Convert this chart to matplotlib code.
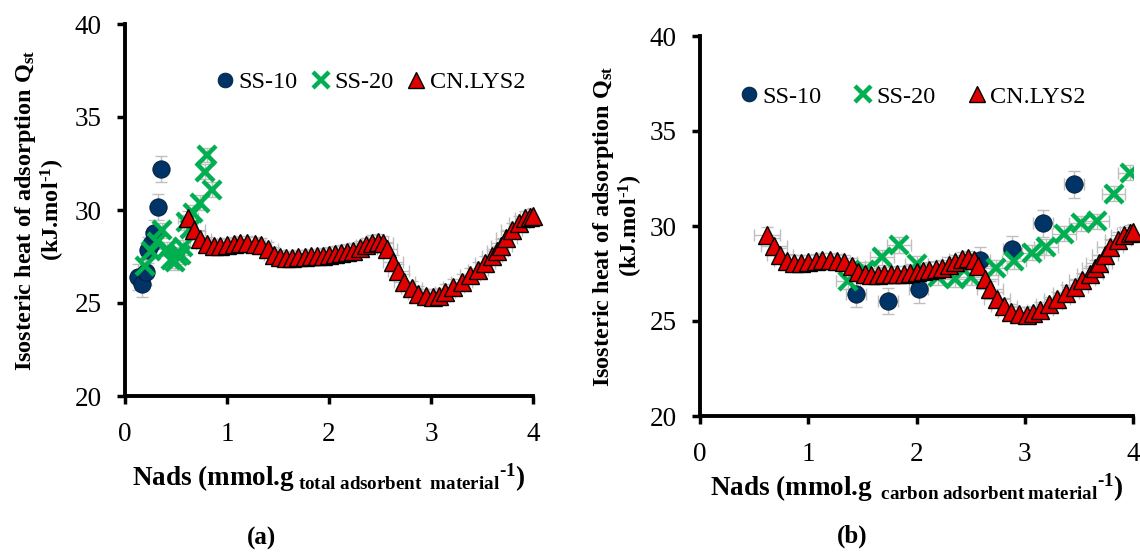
import matplotlib
matplotlib.use("Agg")
import matplotlib.pyplot as plt

plt.rcParams['font.family'] = ['Liberation Serif', 'DejaVu Serif']
plt.rcParams['mathtext.fontset'] = 'custom'
plt.rcParams['mathtext.rm'] = 'Liberation Serif'
plt.rcParams['mathtext.bf'] = 'Liberation Serif:bold'
plt.rcParams['mathtext.it'] = 'Liberation Serif:italic'

# ---------------- data ----------------
# CN.LYS2 (same in both panels)
cn_x = [0.62, 0.68, 0.74, 0.80, 0.87, 0.93, 1.00, 1.07, 1.13, 1.20, 1.27, 1.33,
        1.40, 1.46, 1.52, 1.58, 1.64, 1.70, 1.76, 1.82, 1.88, 1.94, 2.00, 2.06,
        2.12, 2.18, 2.24, 2.30, 2.36, 2.42, 2.48, 2.53, 2.57, 2.63, 2.68, 2.74,
        2.81, 2.87, 2.95, 3.02, 3.08, 3.14, 3.22, 3.30, 3.38, 3.46, 3.53, 3.60,
        3.65, 3.69, 3.74, 3.79, 3.86, 3.92, 3.97, 4.00]
cn_y = [29.55, 28.95, 28.45, 28.15, 28.05, 28.05, 28.10, 28.15, 28.20, 28.20, 28.15, 28.10,
        27.90, 27.60, 27.45, 27.40, 27.40, 27.45, 27.45, 27.50, 27.50, 27.55, 27.60, 27.65,
        27.70, 27.75, 27.80, 27.95, 28.10, 28.25, 28.30, 28.20, 27.90, 27.20, 26.70, 26.15,
        25.80, 25.50, 25.35, 25.34, 25.40, 25.60, 25.88, 26.15, 26.50, 26.80, 27.15, 27.50,
        27.80, 28.05, 28.48, 28.90, 29.28, 29.55, 29.65, 29.70]

# SS-10
ss10_xa = [0.13, 0.17, 0.21, 0.23, 0.25, 0.28, 0.32, 0.35]
ss10_ya = [26.41, 26.03, 26.68, 27.85, 28.15, 28.75, 30.14, 32.19]
ss10_xb = [1.44, 1.735, 2.02, 2.59, 2.886, 3.17, 3.457]
ss10_yb = [26.42, 26.05, 26.67, 28.20, 28.77, 30.14, 32.19]

# SS-20
ss20_xa = [0.20, 0.25, 0.31, 0.36, 0.41, 0.45, 0.49, 0.52, 0.55, 0.57, 0.60, 0.64,
           0.67, 0.735, 0.78, 0.80, 0.85]
ss20_ya = [27.00, 27.80, 28.30, 28.90, 27.90, 27.30, 27.20, 27.50, 27.60, 28.00, 29.35, 29.00,
           29.85, 30.40, 32.06, 32.96, 31.08]
ss20_xb = [1.37, 1.52, 1.68, 1.84, 2.00, 2.20, 2.36, 2.50, 2.73, 2.90, 3.07, 3.20,
           3.36, 3.52, 3.67, 3.82, 3.97]
ss20_yb = [27.10, 27.70, 28.35, 29.00, 28.00, 27.30, 27.20, 27.30, 27.80, 28.15, 28.60, 28.90,
           29.60, 30.15, 30.25, 31.70, 32.80]

x_ticks = [0, 1, 2, 3, 4]
y_ticks = [20, 25, 30, 35, 40]

NAVY = '#003366'
GREEN = '#00B050'
RED = '#E00000'
ERR = '#BFBFBF'

W, H = 1140, 552
fig = plt.figure(figsize=(W / 100, H / 100), dpi=100)


def px_axes(l, r, t, b):
    return fig.add_axes([l / W, 1 - b / H, (r - l) / W, (b - t) / H])


def style(ax):
    ax.set_xlim(0, 4)
    ax.set_ylim(20, 40)
    ax.set_xticks(x_ticks)
    ax.set_yticks(y_ticks)
    for s in ['top', 'right']:
        ax.spines[s].set_visible(False)
    for s in ['left', 'bottom']:
        ax.spines[s].set_linewidth(2.8)
    ax.tick_params(direction='out', length=6, width=2.5, labelsize=19.5)
    ax.tick_params(axis='y', pad=11)
    ax.tick_params(axis='x', pad=13)


def draw(ax, x10, y10, x20, y20, xe10, xe20, xecn):
    kw = dict(fmt='none', ecolor=ERR, elinewidth=1.0, capsize=4, capthick=1.0, zorder=1)
    ax.errorbar(x10, y10, xerr=xe10, yerr=0.7, **kw)
    ax.errorbar(x20, y20, xerr=xe20, yerr=0.4, **kw)
    ax.errorbar(cn_x, cn_y, xerr=xecn, yerr=0.4, **kw)
    ax.plot(x10, y10, 'o', ms=12.5, mfc=NAVY, mec='#001a33', mew=0.6, ls='none',
            zorder=3, label='SS-10')
    ax.plot(x20, y20, 'x', ms=13.5, mec=GREEN, mew=3.2, ls='none', zorder=4, label='SS-20')
    ax.plot(cn_x, cn_y, '^', ms=13.5, mfc=RED, mec='black', mew=1.0, ls='none',
            zorder=5, label='CN.LYS2', clip_on=False)


HY = '\u2010'
# panel (a)
axa = px_axes(125, 533, 24, 396)
style(axa)
draw(axa, ss10_xa, ss10_ya, ss20_xa, ss20_ya, 0.02, 0.03, 0.1)
axa.legend(loc='center', bbox_to_anchor=(0.60, 0.844), ncol=3, frameon=False,
           fontsize=17.5, handletextpad=0.1, columnspacing=0.5, handlelength=0.9,
           markerscale=0.85, borderpad=0)
axa.set_xlabel(r'Nads (mmol.g$_{\mathbf{\ total\ adsorbent\ \ material}}{}^{\mathbf{' + HY + '1}}$)',
               fontsize=19.5, fontweight='bold', labelpad=10)

# panel (b)
axb = px_axes(700, 1133, 36, 416)
style(axb)
draw(axb, ss10_xb, ss10_yb, ss20_xb, ss20_yb, 0.09, 0.11, 0.12)
axb.legend(loc='center', bbox_to_anchor=(0.49, 0.84), ncol=3, frameon=False,
           fontsize=17.5, handletextpad=0.1, columnspacing=1.25, handlelength=0.9,
           markerscale=0.85, borderpad=0)
axb.set_xlabel(r'Nads (mmol.g$_{\mathbf{\ \ carbon\ adsorbent\ material}}{}^{\mathbf{' + HY + '1}}$)',
               fontsize=19.5, fontweight='bold', labelpad=3)

ylab = 'Isosteric heat of adsorption Q$_{\\mathbf{st}}$\n(kJ.mol$^{\\mathbf{' + HY + '1}}$)'
axa.set_ylabel(ylab, fontsize=17.5, fontweight='bold', linespacing=1.05, labelpad=5)
axb.set_ylabel(ylab, fontsize=17.5, fontweight='bold', linespacing=1.05, labelpad=3)

fig.text(262 / W, 1 - 538 / H, '(a)', fontsize=18, fontweight='bold', ha='center', va='center')
fig.text(852 / W, 1 - 536 / H, '(b)', fontsize=18, fontweight='bold', ha='center', va='center')

fig.savefig('out.png', dpi=100)
